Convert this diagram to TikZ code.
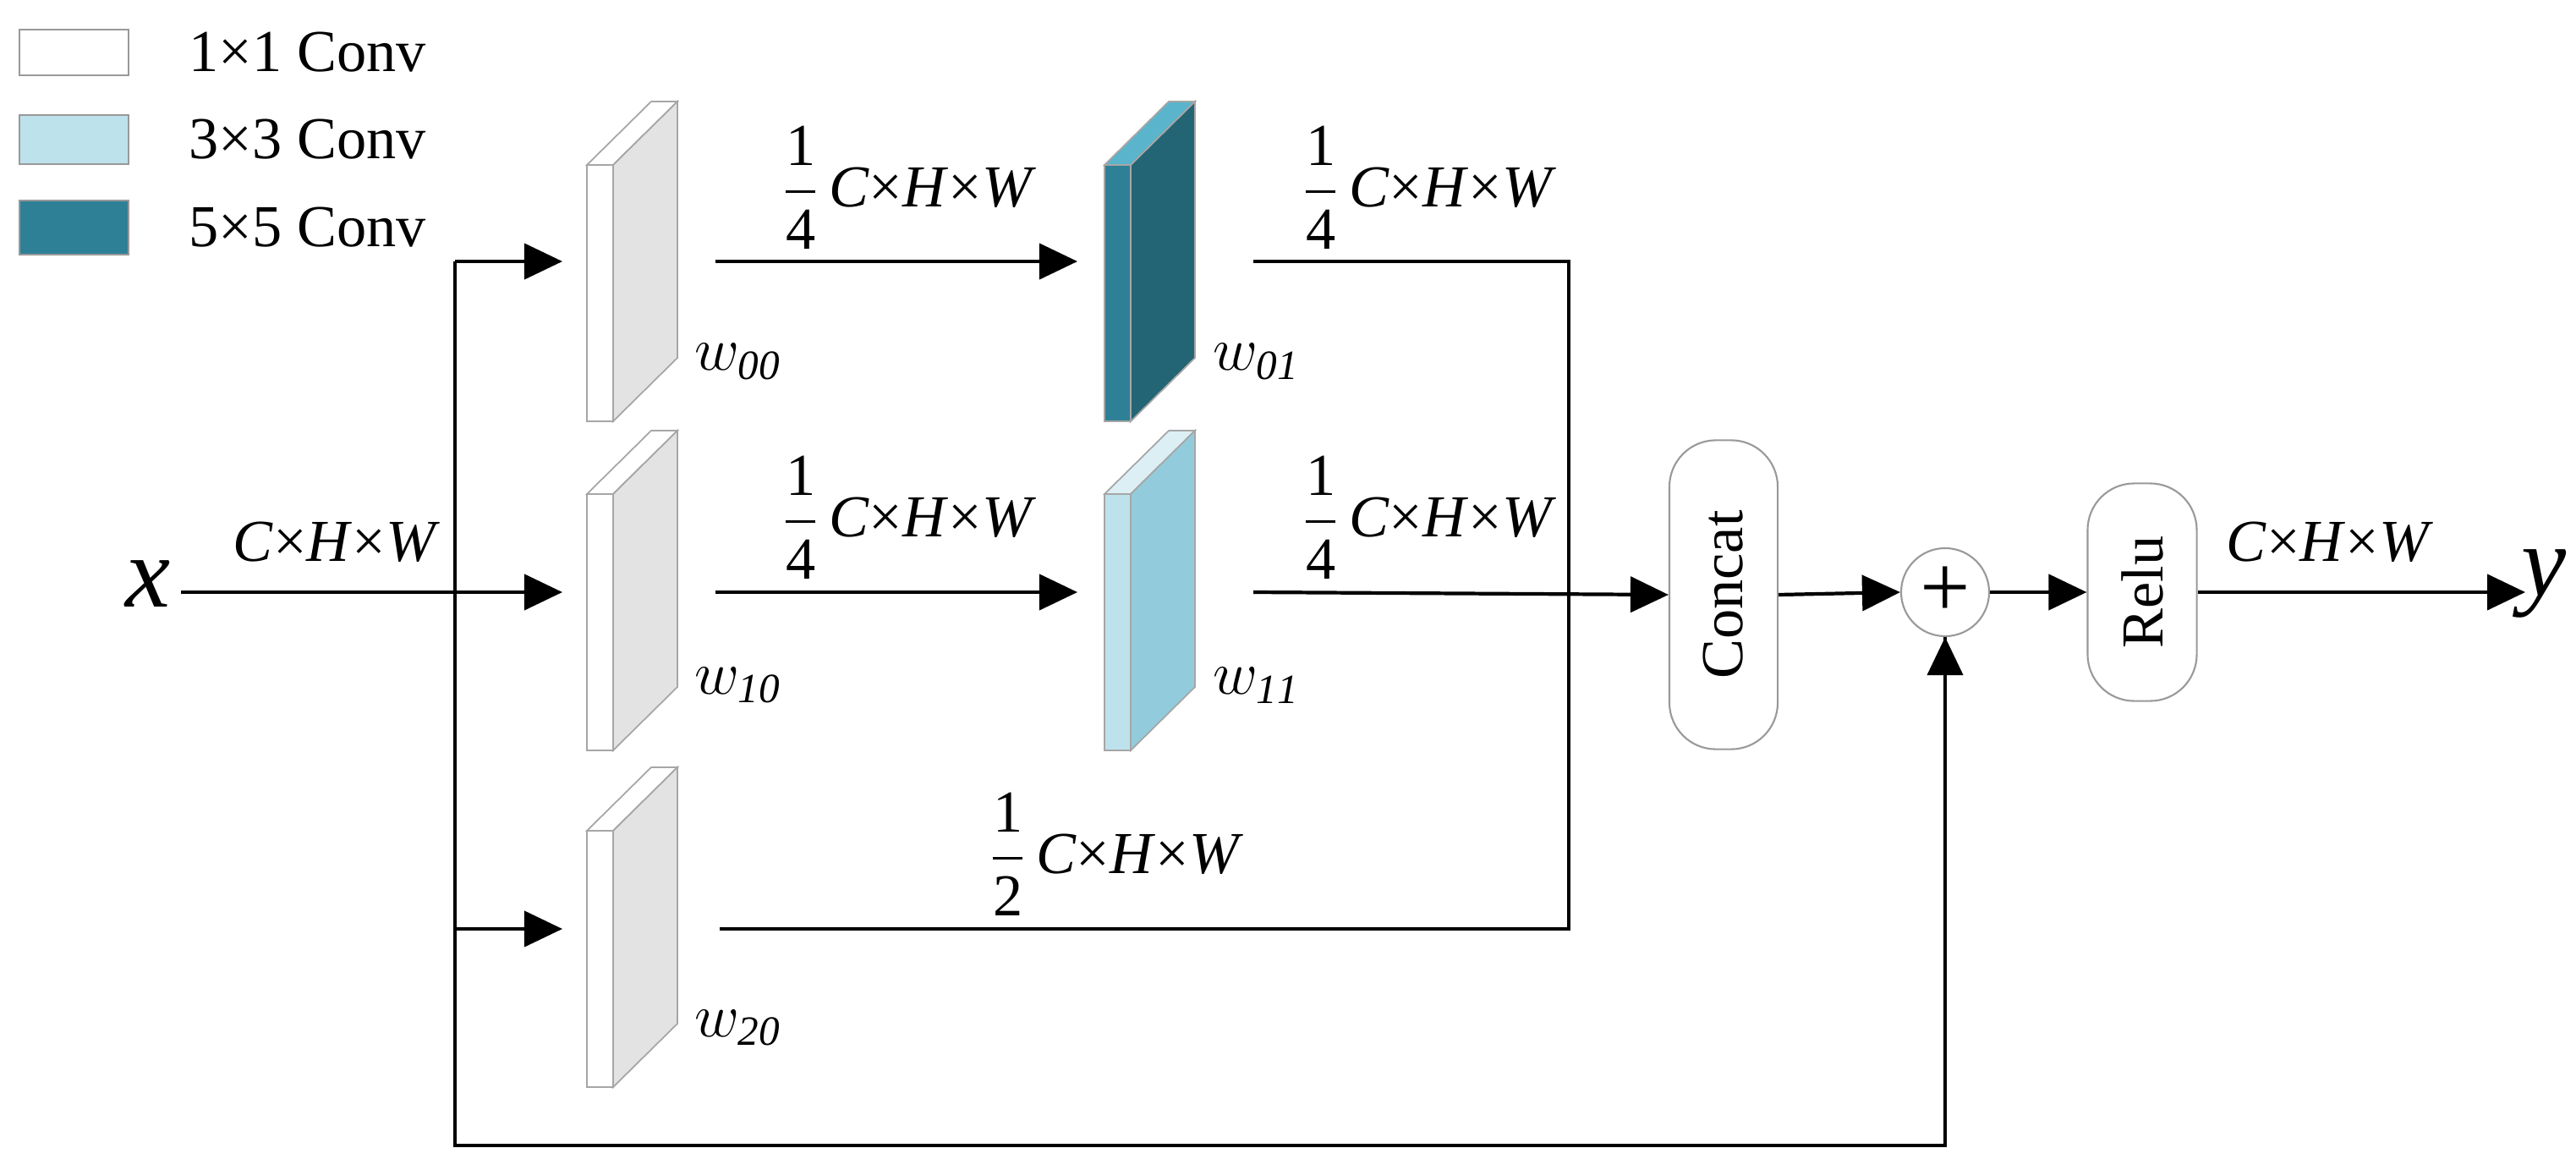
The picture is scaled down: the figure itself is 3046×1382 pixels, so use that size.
\documentclass[tikz,border=0pt]{standalone}
\usepackage{amsmath}
\usepackage{fontspec}
\setmainfont{Liberation Serif}
\usetikzlibrary{arrows.meta}
\definecolor{tealF}{HTML}{2E8096}\definecolor{tealS}{HTML}{236574}\definecolor{tealT}{HTML}{5AB4CC}
\definecolor{lbF}{HTML}{BDE2EC}\definecolor{lbS}{HTML}{92CCDC}\definecolor{lbT}{HTML}{DCEFF5}
\definecolor{grS}{HTML}{E3E3E3}
\newcommand{\chw}{\textit{C}×\textit{H}×\textit{W}}
\newcommand{\fr}[2]{$\dfrac{\text{#1}}{\text{#2}}$}
\newcommand{\slab}[5]{% x, ytop(front), front, side, top
  \fill[#5,draw=gray!70,line width=0.5pt] (#1,#2) -- ++(76,-75) -- ++(31,0) -- ++(-76,75) -- cycle;
  \fill[#4,draw=gray!70,line width=0.5pt] (#1+31,#2) -- ++(76,-75) -- ++(0,303) -- ++(-76,75) -- cycle;
  \fill[#3,draw=gray!70,line width=0.5pt] (#1,#2) rectangle ++(31,303);}
\begin{document}
\begin{tikzpicture}[x=0.01cm,y=-0.01cm,
  lbl/.style={font=\fontsize{20}{24}\selectfont,inner sep=0pt},
  arr/.style={line width=1.2pt,-{Triangle[length=0.45cm,width=0.42cm]}},
  ln/.style={line width=1.2pt},
  box/.style={draw=gray!80,line width=0.6pt,rounded corners=0.55cm}]
\useasboundingbox (0,0) rectangle (3046,1382);
% legend
\draw[gray!80,fill=white] (23,35) rectangle (152,89);
\draw[gray!80,fill=lbF] (23,136) rectangle (152,194);
\draw[gray!80,fill=tealF] (23,237) rectangle (152,301);
\node[lbl,anchor=west] at (223,62) {1×1 Conv};
\node[lbl,anchor=west] at (223,165) {3×3 Conv};
\node[lbl,anchor=west] at (223,269) {5×5 Conv};
% slabs
\slab{694}{195}{white}{grS}{white}
\slab{694}{584}{white}{grS}{white}
\slab{694}{982}{white}{grS}{white}
\slab{1306}{195}{tealF}{tealS}{tealT}
\slab{1306}{584}{lbF}{lbS}{lbT}
\node[lbl,anchor=west] (w00) at (821,428) {$w_{\mathit{00}}$};
\node[lbl,anchor=west] (w10) at (821,810) {$w_{\mathit{10}}$};
\node[lbl,anchor=west] (w20) at (821,1215) {$w_{\mathit{20}}$};
\node[lbl,anchor=west] (w01) at (1434,428) {$w_{\mathit{01}}$};
\node[lbl,anchor=west] (w11) at (1434,810) {$w_{\mathit{11}}$};
% coordinates
\coordinate (xin) at (253,700);
\coordinate (split) at (538,700);
\coordinate (s0) at (538,309);\coordinate (s2) at (538,1098);\coordinate (sb) at (538,1354);
\coordinate (a0) at (665,309);\coordinate (a1) at (665,700);\coordinate (a2) at (665,1098);
\coordinate (b0) at (846,309);\coordinate (b1) at (846,700);\coordinate (b2) at (851,1098);
\coordinate (c0) at (1274,309);\coordinate (c1) at (1274,700);
\coordinate (d0) at (1482,309);\coordinate (d1) at (1482,700);
\coordinate (m0) at (1855,309);\coordinate (m2) at (1855,1098);
\node[font=\fontsize{34}{40}\selectfont\itshape] (x) at (175,690) {x};
\node[font=\fontsize{34}{40}\selectfont\itshape] (y) at (3008,690) {y};
\node[box,minimum width=1.28cm,minimum height=3.65cm] (concat) at (2038,703) {};
\node[lbl,rotate=90] at (concat) {Concat};
\node[draw=gray!80,line width=0.6pt,circle,minimum size=1.04cm,inner sep=0pt] (plus) at (2300,700) {};
\node[font=\fontsize{30}{30}\selectfont] at (plus) {+};
\node[box,minimum width=1.29cm,minimum height=2.57cm] (relu) at (2533,700) {};
\node[lbl,rotate=90] at (relu) {Relu};
\coordinate (yo) at (2986,700);
% connectors
\draw[ln] (x.east|-xin) -- (split);
\draw[ln] (s0) -- (sb) -| (plus.south);
\draw[arr] (sb-|plus.south) -- (plus.south);
\draw[arr] (s0) -- (a0); \draw[arr] (split) -- (a1); \draw[arr] (s2) -- (a2);
\draw[arr] (b0) -- (c0); \draw[arr] (b1) -- (c1);
\draw[ln] (d0) -- (m0) -- (m2) -- (b2);
\draw[arr] (d1) -- (concat.west);
\draw[arr] (concat.east) -- (plus.west);
\draw[arr] (plus.east) -- (relu.west);
\draw[arr] (relu.east) -- (yo);
% labels
\node[lbl] at (1075,222) {\fr14\,\chw};
\node[lbl] at (1690,222) {\fr14\,\chw};
\node[lbl] at (1075,612) {\fr14\,\chw};
\node[lbl] at (1690,612) {\fr14\,\chw};
\node[lbl] at (1320,1010) {\fr12\,\chw};
\node[lbl] at (398,641) {\chw};
\node[lbl] at (2755,641) {\chw};
\end{tikzpicture}
\end{document}
